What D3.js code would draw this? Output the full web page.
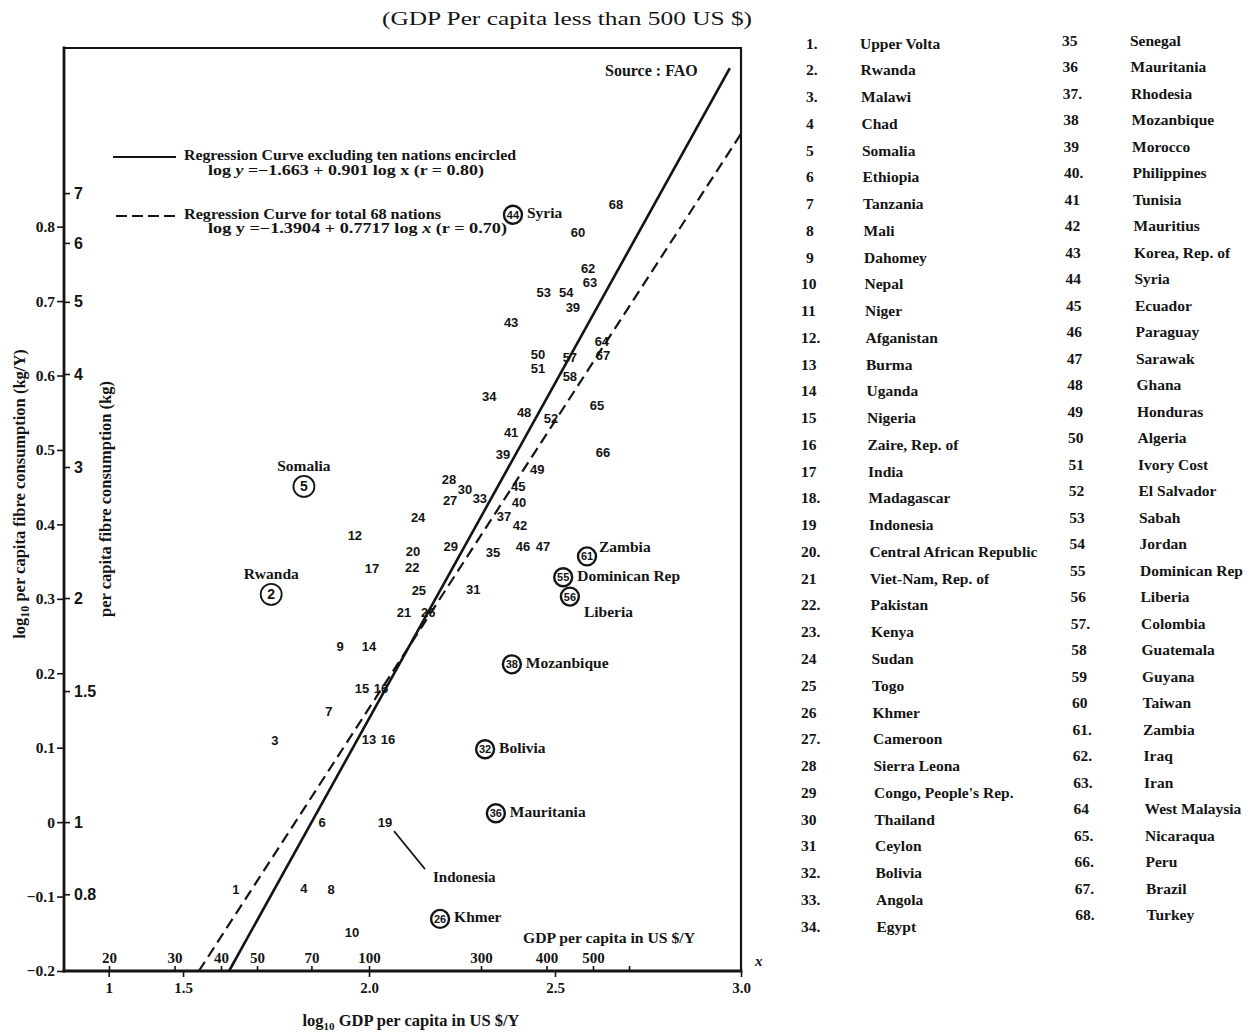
<!DOCTYPE html>
<html>
<head>
<meta charset="utf-8">
<script src="https://cdn.jsdelivr.net/npm/d3@7"></script>
<style>
  body { margin: 0; background: #fff; }
  svg { display: block; }
</style>
</head>
<body>
<svg id="chart" width="1253" height="1032"></svg>
<script>
// ---------- data ----------
// Numbered nations (log10 GDP per capita, log10 fibre consumption per capita)
const pointLabels = ["1","3","4","6","7","8","9","10","12","13","14","15","16","16","17","19","20","21","22","24","25","26","27","28","29","30","31","33","34","35","37","39","39","40","41","42","43","45","46","47","48","49","50","51","52","53","54","57","58","60","62","63","64","65","66","67","68"];
const pointLogGdp = [1.642,1.747,1.825,1.874,1.892,1.898,1.922,1.954,1.962,2.000,2.000,1.981,2.032,2.051,2.008,2.043,2.118,2.094,2.116,2.132,2.134,2.159,2.218,2.215,2.220,2.258,2.280,2.298,2.323,2.333,2.363,2.360,2.548,2.403,2.382,2.406,2.382,2.401,2.414,2.468,2.417,2.452,2.454,2.454,2.489,2.470,2.530,2.540,2.540,2.562,2.589,2.594,2.626,2.613,2.629,2.629,2.664];
const pointLogFibre = [-0.090,0.110,-0.089,0.000,0.148,-0.090,0.236,-0.148,0.385,0.111,0.236,0.179,0.179,0.111,0.341,0.000,0.364,0.281,0.342,0.409,0.311,0.282,0.432,0.460,0.370,0.447,0.313,0.435,0.572,0.362,0.411,0.494,0.691,0.430,0.523,0.399,0.671,0.451,0.370,0.370,0.550,0.474,0.628,0.609,0.542,0.711,0.711,0.624,0.599,0.792,0.744,0.725,0.646,0.560,0.497,0.627,0.830];

// The ten encircled nations
const circledIds = ["2","5","44","61","55","56","38","32","36","26"];
const circledNames = ["Rwanda","Somalia","Syria","Zambia","Dominican Rep","Liberia","Mozanbique","Bolivia","Mauritania","Khmer"];
const circledLogGdp = [1.737,1.825,2.387,2.586,2.522,2.540,2.384,2.312,2.341,2.191];
const circledLogFibre = [0.306,0.451,0.816,0.357,0.329,0.303,0.212,0.098,0.012,-0.130];
const circledPlacement = ["above","above","right","upright","right","downright","right","right","right","right"];

// Regression fits: log y = a + b log x
const fitNames = ["excluding ten","total 68"];
const fitIntercepts = [-1.663, -1.3904];
const fitSlopes = [0.901, 0.7717];
const fitEnds = [2.97, 3.0];

// Axis ticks
const yTicks = [-0.2,-0.1,0,0.1,0.2,0.3,0.4,0.5,0.6,0.7,0.8];
const kgTicks = [0.8,1,1.5,2,3,4,5,6,7];
const kgTickLabels = ["0.8","1","1.5","2","3","4","5","6","7"];
const xTicks = [1.3,1.5,2.0,2.5,3.0];
const xTickLabels = ["1","1.5","2.0","2.5","3.0"];
const gdpTicks = [20,30,40,50,70,100,200,300,400,500];
const gdpTickLabels = ["20","30","40","50","70","100","300","400","500",""];

// Nation list
const listNumbers = ["1.","2.","3.","4","5","6","7","8","9","10","11","12.","13","14","15","16","17","18.","19","20.","21","22.","23.","24","25","26","27.","28","29","30","31","32.","33.","34.","35","36","37.","38","39","40.","41","42","43","44","45","46","47","48","49","50","51","52","53","54","55","56","57.","58","59","60","61.","62.","63.","64","65.","66.","67.","68."];
const countryNames = ["Upper Volta","Rwanda","Malawi","Chad","Somalia","Ethiopia","Tanzania","Mali","Dahomey","Nepal","Niger","Afganistan","Burma","Uganda","Nigeria","Zaire, Rep. of","India","Madagascar","Indonesia","Central African Republic","Viet-Nam, Rep. of","Pakistan","Kenya","Sudan","Togo","Khmer","Cameroon","Sierra Leona","Congo, People's Rep.","Thailand","Ceylon","Bolivia","Angola","Egypt","Senegal","Mauritania","Rhodesia","Mozanbique","Morocco","Philippines","Tunisia","Mauritius","Korea, Rep. of","Syria","Ecuador","Paraguay","Sarawak","Ghana","Honduras","Algeria","Ivory Cost","El Salvador","Sabah","Jordan","Dominican Rep","Liberia","Colombia","Guatemala","Guyana","Taiwan","Zambia","Iraq","Iran","West Malaysia","Nicaraqua","Peru","Brazil","Turkey"];

// ---------- drawing ----------
const ink = "#141414";
const SERIF = "'Liberation Serif','Times New Roman',serif";
const SANS = "'Liberation Sans',Arial,sans-serif";
const svg = d3.select("#chart");
svg.append("rect").attr("width", 1253).attr("height", 1032).attr("fill", "#fff");

const plot = { left: 64, right: 741, top: 48, bottom: 971 };
const xScale = d3.scaleLinear().domain([1.18, 3.0]).range([plot.left, plot.right]);
const yScale = d3.scaleLinear().domain([-0.2, 1.04]).range([plot.bottom, plot.top]);
const kgScale = d3.scaleLog().domain([Math.pow(10, -0.2), Math.pow(10, 1.04)]).range([plot.bottom, plot.top]);
const gdpScale = d3.scaleLog().domain([Math.pow(10, 1.18), 1000]).range([plot.left, plot.right]);

function styleAxis(g, family, size, weight) {
  g.attr("font-family", family).attr("font-size", size).attr("font-weight", weight);
  g.select(".domain").remove();
  g.selectAll(".tick line").attr("stroke", ink).attr("stroke-width", 1.6);
  g.selectAll(".tick text").attr("fill", ink);
}

// log10 fibre consumption (left, outward ticks)
const yAxisG = svg.append("g").attr("transform", `translate(${plot.left},0)`)
  .call(d3.axisLeft(yScale).tickValues(yTicks).tickSize(7).tickPadding(2)
    .tickFormat(d => d === 0 ? "0" : d3.format(".1f")(d).replace("-", "\u2212")));
styleAxis(yAxisG, SERIF, 15.5, "bold");

// fibre consumption in kg (inner ticks)
const kgAxisG = svg.append("g").attr("transform", `translate(${plot.left},0)`)
  .call(d3.axisRight(kgScale).tickValues(kgTicks).tickSize(6).tickPadding(4)
    .tickFormat((d, i) => kgTickLabels[i]));
styleAxis(kgAxisG, SANS, 16, "bold");

// log10 GDP (below axis)
const xAxisG = svg.append("g").attr("transform", `translate(0,${plot.bottom})`)
  .call(d3.axisBottom(xScale).tickValues(xTicks).tickSize(6).tickPadding(5)
    .tickFormat((d, i) => xTickLabels[i]));
styleAxis(xAxisG, SERIF, 15, "bold");

// GDP in US $ (above axis, inside the frame)
const gdpAxisG = svg.append("g").attr("transform", `translate(0,${plot.bottom})`)
  .call(d3.axisTop(gdpScale).tickValues(gdpTicks).tickSize(5).tickPadding(3)
    .tickFormat((d, i) => gdpTickLabels[i]));
styleAxis(gdpAxisG, SERIF, 15, "bold");

// frame
const frame = svg.append("g").attr("stroke", ink).attr("fill", "none").attr("stroke-linecap", "square");
frame.append("line").attr("x1", plot.left).attr("y1", plot.top).attr("x2", plot.right).attr("y2", plot.top).attr("stroke-width", 2);
frame.append("line").attr("x1", plot.right).attr("y1", plot.top).attr("x2", plot.right).attr("y2", plot.bottom).attr("stroke-width", 2.2);
frame.append("line").attr("x1", plot.left).attr("y1", plot.top).attr("x2", plot.left).attr("y2", plot.bottom).attr("stroke-width", 2.8);
frame.append("line").attr("x1", plot.left).attr("y1", plot.bottom).attr("x2", plot.right).attr("y2", plot.bottom).attr("stroke-width", 2.8);

// regression lines
const fitLine = svg.append("g").attr("fill", "none").attr("stroke", ink);
fitNames.forEach((name, k) => {
  const a = fitIntercepts[k], b = fitSlopes[k];
  const x0 = (yScale.domain()[0] - a) / b;
  const line = d3.line().x(d => xScale(d)).y(d => yScale(a + b * d));
  fitLine.append("path")
    .attr("d", line([x0, fitEnds[k]]))
    .attr("stroke-width", k === 0 ? 2.6 : 2.2)
    .attr("stroke-dasharray", k === 0 ? null : "11,6");
});

// numbered nations
svg.append("g").attr("font-family", SANS).attr("font-size", 13).attr("font-weight", "bold").attr("fill", ink)
  .selectAll("text").data(d3.range(pointLabels.length)).join("text")
  .attr("x", i => xScale(pointLogGdp[i]))
  .attr("y", i => yScale(pointLogFibre[i]))
  .attr("text-anchor", "middle").attr("dominant-baseline", "central")
  .text(i => pointLabels[i]);

// Indonesia call-out (nation 19)
const i19 = pointLabels.indexOf("19");
const p19 = [xScale(pointLogGdp[i19]), yScale(pointLogFibre[i19])];
svg.append("line").attr("x1", p19[0] + 9).attr("y1", p19[1] + 9).attr("x2", p19[0] + 40).attr("y2", p19[1] + 47)
  .attr("stroke", ink).attr("stroke-width", 1.6);
svg.append("text").attr("x", p19[0] + 48).attr("y", p19[1] + 55).attr("dominant-baseline", "central")
  .attr("font-family", SERIF).attr("font-size", 15).attr("font-weight", "bold").attr("fill", ink).text("Indonesia");

// encircled nations
const placeOffset = { above: [0, -21, "middle"], right: [14, -2, "start"], upright: [12, -10, "start"], downright: [14, 15, "start"] };
const circ = svg.append("g").selectAll("g").data(d3.range(circledIds.length)).join("g")
  .attr("transform", i => `translate(${xScale(circledLogGdp[i])},${yScale(circledLogFibre[i])})`);
circ.append("circle").attr("r", i => circledIds[i].length === 1 ? 10.5 : 9)
  .attr("fill", "none").attr("stroke", ink).attr("stroke-width", i => circledIds[i].length === 1 ? 1.8 : 2.4);
circ.append("text").attr("text-anchor", "middle").attr("dominant-baseline", "central")
  .attr("font-family", SANS).attr("font-weight", "bold").attr("fill", ink)
  .attr("font-size", i => circledIds[i].length === 1 ? 14 : 11)
  .text(i => circledIds[i]);
circ.append("text")
  .attr("x", i => placeOffset[circledPlacement[i]][0])
  .attr("y", i => placeOffset[circledPlacement[i]][1])
  .attr("text-anchor", i => placeOffset[circledPlacement[i]][2])
  .attr("dominant-baseline", "central")
  .attr("font-family", SERIF).attr("font-size", 15.5).attr("font-weight", "bold").attr("fill", ink)
  .text(i => circledNames[i]);

// legend
const leg = svg.append("g").attr("font-family", SERIF).attr("font-size", 14).attr("font-weight", "bold").attr("fill", ink);
leg.append("line").attr("x1", 113).attr("x2", 176).attr("y1", 157).attr("y2", 157).attr("stroke", ink).attr("stroke-width", 2);
leg.append("line").attr("x1", 116).attr("x2", 176).attr("y1", 216).attr("y2", 216).attr("stroke", ink).attr("stroke-width", 2.2).attr("stroke-dasharray", "11,5");
leg.append("text").attr("x", 184).attr("y", 160).attr("textLength", 332).attr("lengthAdjust", "spacingAndGlyphs")
  .text("Regression Curve excluding ten nations encircled");
const eq1 = leg.append("text").attr("x", 208).attr("y", 175).attr("textLength", 276).attr("lengthAdjust", "spacingAndGlyphs");
eq1.append("tspan").text("log  ");
eq1.append("tspan").attr("font-style", "italic").text("y");
eq1.append("tspan").text(" =\u22121.663 + 0.901 log x (r = 0.80)");
leg.append("text").attr("x", 184).attr("y", 219).attr("textLength", 257).attr("lengthAdjust", "spacingAndGlyphs")
  .text("Regression Curve for total 68 nations");
const eq2 = leg.append("text").attr("x", 208).attr("y", 233).attr("textLength", 299).attr("lengthAdjust", "spacingAndGlyphs");
eq2.append("tspan").text("log  y =\u22121.3904 + 0.7717 log ");
eq2.append("tspan").attr("font-style", "italic").text("x");
eq2.append("tspan").text(" (r = 0.70)");

// annotations and titles
const txt = (x, y, s, opts = {}) => svg.append("text").attr("x", x).attr("y", y)
  .attr("font-family", opts.family || SERIF).attr("font-size", opts.size || 14)
  .attr("font-weight", opts.weight || "bold").attr("font-style", opts.style || "normal")
  .attr("text-anchor", opts.anchor || "start").attr("fill", ink).text(s);

txt(382, 25, "(GDP Per capita less than 500 US $)", { size: 19.5, weight: "normal" })
  .attr("textLength", 370).attr("lengthAdjust", "spacingAndGlyphs");
txt(605, 76, "Source : FAO", { size: 16 });
txt(523, 943, "GDP per capita in US $/Y", { size: 15 }).attr("textLength", 172).attr("lengthAdjust", "spacingAndGlyphs");
txt(755, 966, "x", { style: "italic", size: 15 });

// x title with subscript
const xt = svg.append("text").attr("x", 411).attr("y", 1026).attr("text-anchor", "middle")
  .attr("font-family", SERIF).attr("font-size", 16.5).attr("font-weight", "bold").attr("fill", ink);
xt.append("tspan").text("log");
xt.append("tspan").attr("font-size", 11).attr("dy", 4).text("10");
xt.append("tspan").attr("dy", -4).text(" GDP per capita in US $/Y");

// y titles
const yt1 = svg.append("text").attr("transform", "translate(25,494) rotate(-90)").attr("text-anchor", "middle")
  .attr("font-family", SERIF).attr("font-size", 16.5).attr("font-weight", "bold").attr("fill", ink);
yt1.append("tspan").text("log");
yt1.append("tspan").attr("font-size", 12).attr("dy", 4).text("10");
yt1.append("tspan").attr("dy", -4).text(" per capita fibre consumption  (kg/Y)");

svg.append("text").attr("transform", "translate(111,499) rotate(-90)").attr("text-anchor", "middle")
  .attr("font-family", SERIF).attr("font-size", 16.5).attr("font-weight", "bold").attr("fill", ink)
  .text("per capita fibre consumption  (kg)");

// nation list, two columns
const list = svg.append("g").attr("font-family", SERIF).attr("font-size", 15.5).attr("font-weight", "bold").attr("fill", ink);
const rows = list.selectAll("g").data(d3.range(countryNames.length)).join("g");
rows.append("text")
  .attr("x", i => i < 34 ? (i < 9 ? 806 : 801) : 1062 + (i - 34) * 0.4)
  .attr("y", i => i < 34 ? 43 + i * 26.76 : 40 + (i - 34) * 26.5)
  .attr("dominant-baseline", "central")
  .text(i => listNumbers[i]);
rows.append("text")
  .attr("x", i => i < 34 ? 860 + i * 0.5 : 1130 + (i - 34) * 0.5)
  .attr("y", i => i < 34 ? 43 + i * 26.76 : 40 + (i - 34) * 26.5)
  .attr("dominant-baseline", "central")
  .text(i => countryNames[i]);
</script>
</body>
</html>
